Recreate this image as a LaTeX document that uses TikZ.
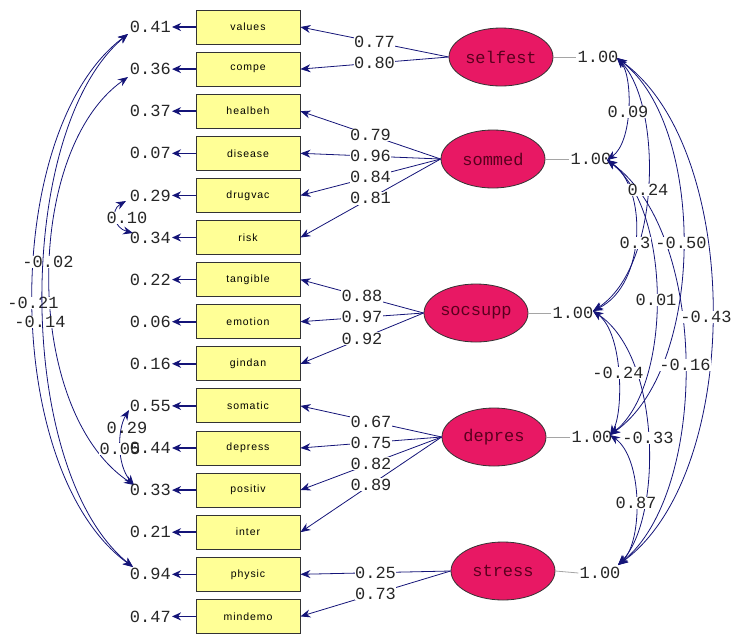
\documentclass[tikz,border=0pt]{standalone}
\usepackage{fontspec}
\usetikzlibrary{shapes.geometric,arrows.meta}
\newfontfamily\numfont{Liberation Mono}
\newfontfamily\boxfont[LetterSpace=9]{Liberation Sans}
\definecolor{navy}{RGB}{20,20,120}
\definecolor{boxyel}{RGB}{255,255,150}
\definecolor{latpink}{RGB}{232,24,100}
\definecolor{lattext}{RGB}{90,0,30}
\definecolor{vargrey}{RGB}{165,165,165}
\begin{document}
\begin{tikzpicture}[x=1pt,y=-1pt,
  obs/.style={draw=black!80, fill=boxyel, minimum width=104pt, minimum height=34pt, inner sep=0pt, line width=0.9pt, font=\boxfont\fontsize{10.5}{12}\selectfont},
  lat/.style={ellipse, draw=black!80, fill=latpink, minimum width=104pt, minimum height=58pt, inner sep=0pt, line width=0.8pt, text=lattext, font=\numfont\fontsize{17}{20}\selectfont},
  num/.style={font=\numfont\fontsize{17}{20}\selectfont, inner sep=1pt, text=black!85},
  lab/.style={num, fill=white, inner sep=0.5pt},
  load/.style={draw=navy, line width=0.8pt, -{Stealth[length=10pt,width=8pt]}},
  errarr/.style={draw=navy, line width=1.6pt, -{Stealth[length=9pt,width=8pt]}},
  cov/.style={draw=navy, line width=0.8pt, {Stealth[length=10pt,width=8pt]}-{Stealth[length=10pt,width=8pt]}},
  varline/.style={draw=vargrey, line width=0.8pt}]
\useasboundingbox (0,0) rectangle (732,633);

% observed boxes
\foreach \t [count=\i] in {values,compe,healbeh,disease,drugvac,risk,tangible,emotion,gindan,somatic,depress,positiv,inter,physic,mindemo}
  {\node[obs] (b\i) at (248,{27+42.1*(\i-1)}) {\t};}

% latent variables
\node[lat] (selfest) at (501,57) {selfest};
\node[lat] (sommed) at (493,159) {sommed};
\node[lat] (socsupp) at (476,313) {socsupp};
\node[lat] (depres) at (494,437) {depres};
\node[lat] (stress) at (503,571) {stress};

% loadings
\draw[load] (selfest.west) -- node[lab]{0.77} (b1.east);
\draw[load] (selfest.west) -- node[lab]{0.80} (b2.east);
\draw[load] (sommed.west) -- node[lab]{0.79} (b3.east);
\draw[load] (sommed.west) -- node[lab]{0.96} (b4.east);
\draw[load] (sommed.west) -- node[lab]{0.84} (b5.east);
\draw[load] (sommed.west) -- node[lab]{0.81} (b6.east);
\draw[load] (socsupp.west) -- node[lab]{0.88} (b7.east);
\draw[load] (socsupp.west) -- node[lab]{0.97} (b8.east);
\draw[load] (socsupp.west) -- node[lab]{0.92} (b9.east);
\draw[load] (depres.west) -- node[lab]{0.67} (b10.east);
\draw[load] (depres.west) -- node[lab]{0.75} (b11.east);
\draw[load] (depres.west) -- node[lab]{0.82} (b12.east);
\draw[load] (depres.west) -- node[lab]{0.89} (b13.east);
\draw[load] (stress.west) -- node[lab]{0.25} (b14.east);
\draw[load] (stress.west) -- node[lab]{0.73} (b15.east);

% latent variances
\node[num] (v1t) at (598,57) {1.00};
\node[num] (v2t) at (591,159) {1.00};
\node[num] (v3t) at (573,313) {1.00};
\node[num] (v4t) at (592,437) {1.00};
\node[num] (v5t) at (600,573) {1.00};
\draw[varline] (selfest.east) -- (v1t.west);
\draw[varline] (sommed.east) -- (v2t.west);
\draw[varline] (socsupp.east) -- (v3t.west);
\draw[varline] (depres.east) -- (v4t.west);
\draw[varline] (stress.east) -- (v5t.west);

\coordinate (p1) at (617,58);
\coordinate (p2) at (607,160);
\coordinate (p3) at (593,311);
\coordinate (p4) at (610,435);
\coordinate (p5) at (618,565);

% latent covariances
\draw[cov] (p1) .. controls (633,76) and (633,142) .. (p2);
\draw[cov] (p1) .. controls (662,104) and (662,266) .. (p3);
\draw[cov] (p2) .. controls (647,187) and (647,284) .. (p3);
\draw[cov] (p1) .. controls (706,126) and (706,367) .. (p4);
\draw[cov] (p2) .. controls (672,210) and (672,386) .. (p4);
\draw[cov] (p1) .. controls (743.5,149) and (743.5,474) .. (p5);
\draw[cov] (p3) .. controls (623.5,333) and (623.5,413) .. (p4);
\draw[cov] (p2) .. controls (709,233) and (709,492) .. (p5);
\draw[cov] (p3) .. controls (662,357) and (662,519) .. (p5);
\draw[cov] (p4) .. controls (643,458) and (643,542) .. (p5);
\node[lab] (r1) at (628,112) {0.09};
\node[lab] (r2) at (648,190) {0.24};
\node[lab] (r3) at (635,243) {0.3};
\node[lab] (r4) at (681,243) {-0.50};
\node[lab] (r5) at (656,300) {0.01};
\node[lab] (r6) at (706,317) {-0.43};
\node[lab] (r7) at (618,373) {-0.24};
\node[lab] (r8) at (685,365) {-0.16};
\node[lab] (r9) at (648,438) {-0.33};
\node[lab] (r10) at (636,503) {0.87};

% error covariances (left)
\coordinate (q1) at (128,34);
\coordinate (q2) at (128,77);
\coordinate (q5) at (126,201);
\coordinate (q6) at (133,233);
\coordinate (q10) at (129,410);
\coordinate (q12) at (134,485);
\coordinate (q14) at (133,567);
\draw[cov] (q1) .. controls (0.5,130) and (0.5,471) .. (q14);
\draw[cov] (q2) .. controls (23,151) and (23,411) .. (q12);
\draw[cov] (q5) .. controls (110,210) and (114,228) .. (q6);
\draw[cov] (q10) .. controls (117,430) and (117,465) .. (q12);
\node[lab] (l1) at (48,262) {-0.02};
\node[lab] (l2) at (33,303) {-0.21};
\node[lab] (l3) at (40,322) {-0.14};
\node[lab] (l4) at (127,218) {0.10};
\node[lab] (l6) at (120,449) {0.05};
\draw[cov] (q1) .. controls (14,130) and (14,471) .. (q14);
\node[num] (l5) at (127,428) {0.29};

% error variances
\foreach \v [count=\i] in {0.41,0.36,0.37,0.07,0.29,0.34,0.22,0.06,0.16,0.55,0.44,0.33,0.21,0.94,0.47}
  {\node[num, anchor=east] (e\i) at (172,{27+42.1*(\i-1)}) {\v};
   \draw[errarr] (b\i.west) -- (e\i.east);}
\end{tikzpicture}
\end{document}
